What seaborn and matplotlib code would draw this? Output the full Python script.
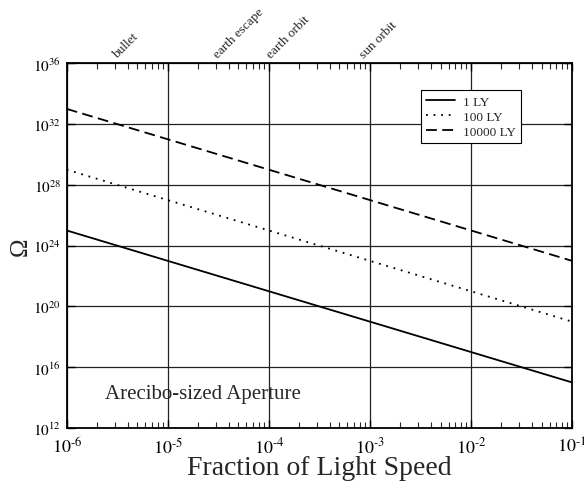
import matplotlib
matplotlib.use("Agg")
import matplotlib.pyplot as plt
import matplotlib.ticker as mticker
import matplotlib.transforms as mtransforms
import numpy as np
import pandas as pd
import seaborn as sns

# Fraction of light speed at each decade
speed = [1e-6, 1e-5, 1e-4, 1e-3, 1e-2, 1e-1]
# Omega for each travel distance
omega_1ly = [1e25, 1e23, 1e21, 1e19, 1e17, 1e15]
omega_100ly = [1e29, 1e27, 1e25, 1e23, 1e21, 1e19]
omega_10000ly = [1e33, 1e31, 1e29, 1e27, 1e25, 1e23]
series_names = ["1 LY", "100 LY", "10000 LY"]

# Reference speeds marked along the top axis
marker_names = ["bullet", "earth escape", "earth orbit", "sun orbit"]
marker_speeds = [3e-6, 3e-5, 1e-4, 8.3e-4]

x_ticks = [1e-6, 1e-5, 1e-4, 1e-3, 1e-2, 1e-1]
x_tick_labels = [r"$10^{\text{-6}}$", r"$10^{\text{-5}}$", r"$10^{\text{-4}}$",
                 r"$10^{\text{-3}}$", r"$10^{\text{-2}}$", r"$10^{\text{-1}}$"]
y_ticks = [1e12, 1e16, 1e20, 1e24, 1e28, 1e32, 1e36]
y_tick_labels = [r"$10^{12}$", r"$10^{16}$", r"$10^{20}$", r"$10^{24}$",
                 r"$10^{28}$", r"$10^{32}$", r"$10^{36}$"]

df = pd.DataFrame({
    "speed": speed * 3,
    "omega": omega_1ly + omega_100ly + omega_10000ly,
    "distance": [series_names[0]] * len(speed) + [series_names[1]] * len(speed)
                + [series_names[2]] * len(speed),
})

sns.set_style("white")
plt.rcParams["font.family"] = ["Liberation Serif", "DejaVu Serif"]
plt.rcParams["mathtext.fontset"] = "stix"

fig = plt.figure(figsize=(5.84, 4.89), dpi=100)
ax = fig.add_axes([0.1142, 0.1227, 0.8653, 0.7458])

sns.lineplot(
    data=df, x="speed", y="omega", hue="distance", style="distance",
    palette={n: "black" for n in series_names},
    dashes={"1 LY": "", "100 LY": (1, 3.2), "10000 LY": (6, 3)},
    hue_order=series_names, style_order=series_names,
    linewidth=1.3, ax=ax, legend=True,
)

ax.set_xscale("log")
ax.set_yscale("log")
ax.set_xlim(1e-6, 1e-1)
ax.set_ylim(1e12, 1e36)

ax.xaxis.set_major_locator(mticker.FixedLocator(x_ticks))
ax.xaxis.set_major_formatter(mticker.FixedFormatter(x_tick_labels))
ax.xaxis.set_minor_locator(mticker.LogLocator(base=10, subs=np.arange(2, 10), numticks=20))
ax.xaxis.set_minor_formatter(mticker.NullFormatter())
ax.yaxis.set_major_locator(mticker.FixedLocator(y_ticks))
ax.yaxis.set_major_formatter(mticker.FixedFormatter(y_tick_labels))
ax.yaxis.set_minor_locator(mticker.NullLocator())

ax.tick_params(axis="x", which="major", direction="in", length=6, width=1,
               top=True, bottom=True, labelsize=13, pad=6, colors="black")
ax.tick_params(axis="x", which="minor", direction="in", length=4, width=0.8,
               top=True, bottom=True)
ax.tick_params(axis="y", which="major", direction="in", length=6, width=1,
               left=True, right=True, labelsize=11, pad=4, colors="black")

ax.grid(True, which="major", color="#222222", linewidth=0.9)
for s in ax.spines.values():
    s.set_color("black")
    s.set_linewidth(1.3)

ax.set_xlabel("Fraction of Light Speed", fontsize=20, labelpad=-1)
ax.set_ylabel("\u03a9", fontsize=18, labelpad=1)

ax.text(0.075, 0.095, "Arecibo-sized Aperture", transform=ax.transAxes,
        fontsize=15, ha="left", va="center")

# Speed markers written along the top axis
trans = mtransforms.blended_transform_factory(ax.transData, ax.transAxes)
shift = mtransforms.ScaledTranslation(4 / 100, 0, fig.dpi_scale_trans)
for name, v in zip(marker_names, marker_speeds):
    ax.text(v, 1.01, name, transform=trans + shift, rotation=45,
            rotation_mode="anchor", ha="left", va="bottom", fontsize=9.5)

handles, labels = ax.get_legend_handles_labels()
leg = ax.legend(handles, labels, loc="upper left", bbox_to_anchor=(0.701, 0.926),
                borderaxespad=0, frameon=True, fancybox=False, edgecolor="black",
                fontsize=9.5, handlelength=2.2, handletextpad=0.6, borderpad=0.4,
                labelspacing=0.2, framealpha=1)
leg.get_frame().set_linewidth(0.8)

fig.savefig("out.png", dpi=100)
